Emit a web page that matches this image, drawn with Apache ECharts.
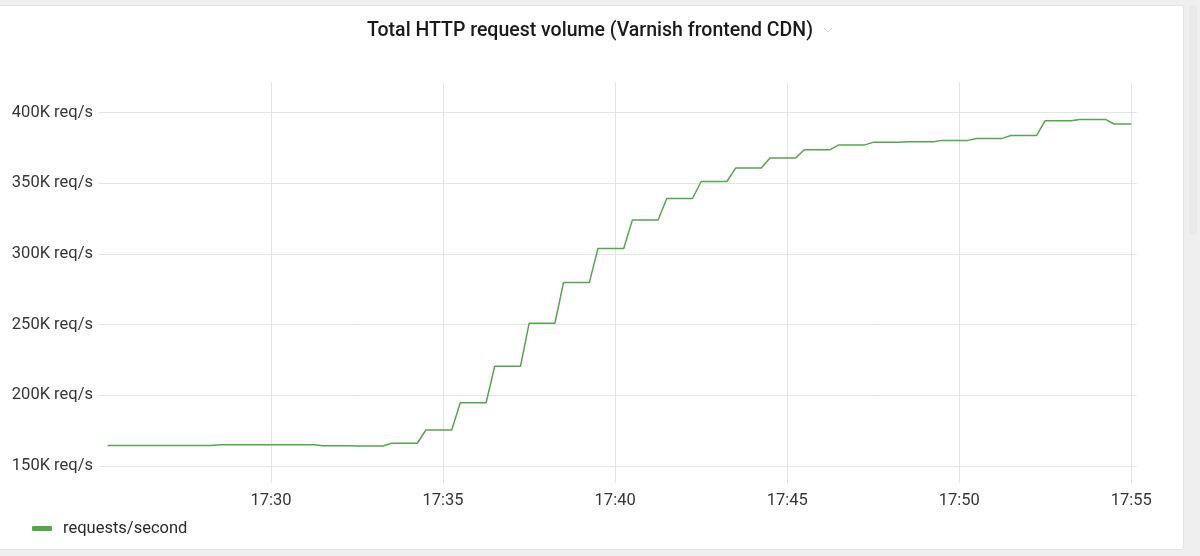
<!DOCTYPE html>
<html>
<head>
<meta charset="utf-8">
<script src="https://cdn.jsdelivr.net/npm/echarts@6/dist/echarts.min.js"></script>
<style>
  html, body { margin: 0; padding: 0; background: #efefef; width: 1200px; height: 556px; overflow: hidden; }
  #panel { position: absolute; left: -2px; top: 5px; width: 1184px; height: 543px; background: #fff; border: 1px solid #e3e3e3; border-radius: 3px; }
  #scroll { position: absolute; left: 1189px; top: 5px; width: 8px; height: 230px; background: #e9e9e9; border-radius: 4px; }
  #chart { position: absolute; left: 0; top: 0; width: 1200px; height: 556px; }
</style>
</head>
<body>
<div id="panel"></div>
<div id="scroll"></div>
<div id="chart"></div>
<script>
// ---- data ----
const titleText = 'Total HTTP request volume (Varnish frontend CDN)';
const seriesName = 'requests/second';
// one value per minute (plateau from MM:30 until next minute :15)
const minuteLabels = ['17:25','17:26','17:27','17:28','17:29','17:30','17:31','17:32','17:33','17:34',
                      '17:35','17:36','17:37','17:38','17:39','17:40','17:41','17:42','17:43','17:44',
                      '17:45','17:46','17:47','17:48','17:49','17:50','17:51','17:52','17:53','17:54'];
const minuteValues = [164600,164600,164600,165100,165100,165100,164400,164200,166100,175500,
                      194800,220600,251000,279800,303900,324000,339300,351300,360800,368000,
                      373800,377200,379000,379500,380400,381800,383900,394300,395200,392000];
const firstTime = '17:25:15';
const lastTime = '17:55:00';
const xTickLabels = ['17:30','17:35','17:40','17:45','17:50','17:55'];
const yTickValues = [150000,200000,250000,300000,350000,400000];
const xRange = ['17:25:00','17:55:10'];
const yRange = [138000, 421700];

// ---- helpers ----
function toSec(s) {
  const p = s.split(':').map(Number);
  return p[0]*3600 + p[1]*60 + (p[2] || 0);
}
function fmt(sec) {
  const h = Math.floor(sec/3600), m = Math.floor((sec%3600)/60);
  return h + ':' + String(m).padStart(2,'0');
}
const tFirst = toSec(firstTime), tLast = toSec(lastTime);
const points = [[tFirst, minuteValues[0]]];
minuteLabels.forEach((lab, i) => {
  const base = toSec(lab);
  if (i > 0) points.push([base + 30, minuteValues[i]]);
  points.push([Math.min(base + 75, tLast), minuteValues[i]]);
});

const chart = echarts.init(document.getElementById('chart'), null, {renderer: 'canvas'});
const green = '#56a64b';
const gridColor = '#e4e4e4';
const labelColor = '#363636';
chart.setOption({
  backgroundColor: 'transparent',
  animation: false,
  textStyle: { fontFamily: 'Roboto, "Noto Sans", sans-serif' },
  title: {
    text: titleText,
    left: 362, top: 16,
    textStyle: { fontSize: 19.5, fontWeight: 500, color: '#1a1a1a', fontFamily: 'Roboto, sans-serif' }
  },
  graphic: [{
    type: 'polyline', shape: { points: [[824, 28], [828, 32], [832, 28]] },
    style: { stroke: '#d0d0d0', lineWidth: 1, fill: null }
  }],
  legend: {
    left: 32, top: 520, padding: 0,
    icon: 'roundRect', itemWidth: 20, itemHeight: 5,
    textStyle: { fontSize: 16.5, color: '#2a2a2a', padding: [0,0,0,6] },
    data: [seriesName]
  },
  grid: { left: 99, right: 63, top: 82, bottom: 73, containLabel: false },
  xAxis: {
    type: 'value',
    min: toSec(xRange[0]), max: toSec(xRange[1]),
    axisLine: { show: false },
    axisTick: { show: false, customValues: xTickLabels.map(toSec) },
    axisLabel: { customValues: xTickLabels.map(toSec), formatter: v => fmt(v), fontSize: 16.5, color: labelColor, margin: 9 },
    splitLine: { show: true, lineStyle: { color: gridColor, width: 1 } }
  },
  yAxis: {
    type: 'value',
    min: yRange[0], max: yRange[1],
    axisLine: { show: false },
    axisTick: { show: false, customValues: yTickValues },
    axisLabel: { customValues: yTickValues, formatter: v => (v/1000) + 'K req/s', fontSize: 16.5, color: labelColor, margin: 6 },
    splitLine: { show: true, lineStyle: { color: gridColor, width: 1 } }
  },
  series: [{
    name: seriesName,
    type: 'line',
    data: points,
    showSymbol: false,
    symbol: 'none',
    lineStyle: { color: green, width: 1.5 },
    itemStyle: { color: green }
  }]
});
</script>
</body>
</html>
